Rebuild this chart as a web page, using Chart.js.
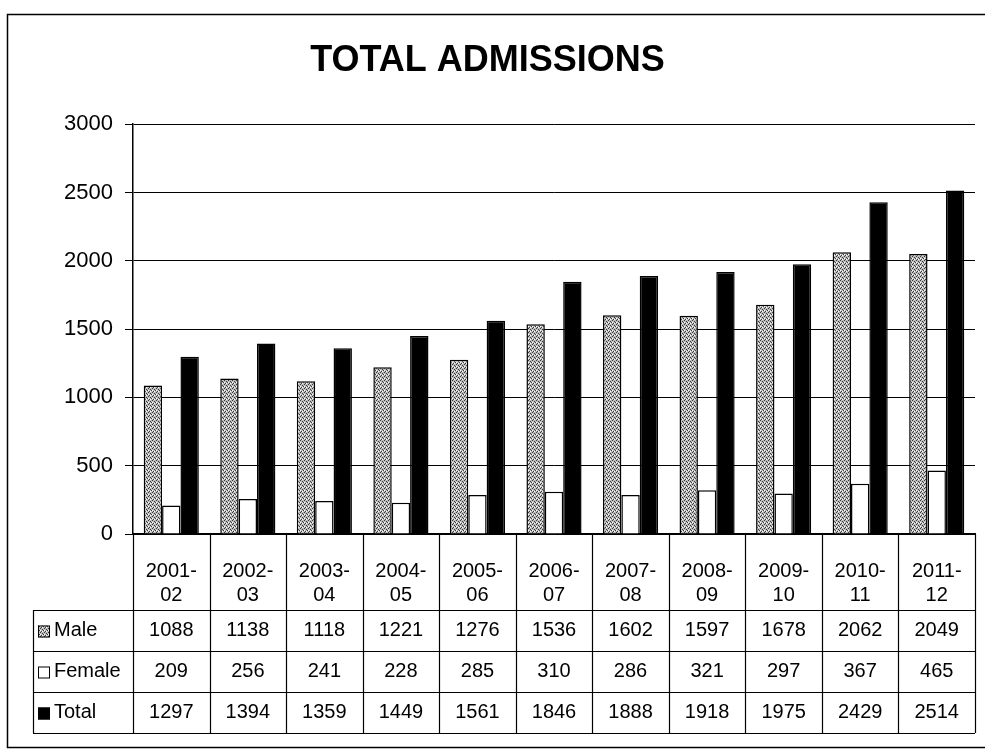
<!DOCTYPE html>
<html>
<head>
<meta charset="utf-8">
<title>Total Admissions</title>
<script src="https://cdn.jsdelivr.net/npm/chart.js@4.4.1/dist/chart.umd.min.js"></script>
<style>
  body { margin: 0; background: #fff; }
  canvas { display: block; }
</style>
</head>
<body>
<canvas id="myChartAdmisiones" width="985" height="754"></canvas>
<script>
// Datos del gráfico
const categories = ['2001-02', '2002-03', '2003-04', '2004-05', '2005-06', '2006-07',
                    '2007-08', '2008-09', '2009-10', '2010-11', '2011-12'];
const seriesNames = ['Male', 'Female', 'Total'];
const maleValues = [1088, 1138, 1118, 1221, 1276, 1536, 1602, 1597, 1678, 2062, 2049];
const femaleValues = [209, 256, 241, 228, 285, 310, 286, 321, 297, 367, 465];
const totalValues = [1297, 1394, 1359, 1449, 1561, 1846, 1888, 1918, 1975, 2429, 2514];
const yTicks = [0, 500, 1000, 1500, 2000, 2500, 3000];

const FONT = 'Arial, "Liberation Sans", sans-serif';
Chart.defaults.font.family = FONT;
Chart.defaults.color = '#000';

// Trama punteada gris para "Male"
function crearTrama() {
    const c = document.createElement('canvas');
    c.width = 4; c.height = 4;
    const g = c.getContext('2d');
    g.fillStyle = '#bdbdbd';
    g.fillRect(0, 0, 4, 4);
    g.fillStyle = '#3a3a3a';
    [[0, 0], [2, 1], [1, 3], [3, 2]].forEach(p => g.fillRect(p[0], p[1], 1, 1));
    g.fillStyle = '#ffffff';
    [[2, 3], [0, 2]].forEach(p => g.fillRect(p[0], p[1], 1, 1));
    return g.createPattern(c, 'repeat');
}

const ctx = document.getElementById('myChartAdmisiones').getContext('2d');
const maleFill = crearTrama();
const seriesFills = [maleFill, '#ffffff', '#000000'];
const seriesData = [maleValues, femaleValues, totalValues];

// Tabla de datos bajo el eje X, como en Excel
const tablaPlugin = {
    id: 'tablaDatos',
    afterDraw(chart) {
        const c = chart.ctx;
        const ca = chart.chartArea;
        const n = categories.length;
        const colW = (ca.right - ca.left) / n;
        const rowTop = 610, rowH = 41, legendLeft = 33;
        const tableBottom = rowTop + rowH * seriesNames.length;

        c.save();
        c.strokeStyle = '#000';
        c.lineWidth = 1.2;

        // líneas verticales de las columnas
        for (let i = 0; i <= n; i++) {
            const x = Math.round(ca.left + i * colW) + 0.5;
            c.beginPath();
            c.moveTo(x, ca.bottom);
            c.lineTo(x, tableBottom);
            c.stroke();
        }
        // líneas horizontales de las filas
        for (let k = 0; k <= seriesNames.length; k++) {
            const y = rowTop + k * rowH + 0.5;
            c.beginPath();
            c.moveTo(legendLeft, y);
            c.lineTo(ca.right, y);
            c.stroke();
        }
        c.beginPath();
        c.moveTo(legendLeft + 0.5, rowTop);
        c.lineTo(legendLeft + 0.5, tableBottom);
        c.stroke();

        c.font = '20px ' + FONT;
        c.fillStyle = '#000';
        c.textBaseline = 'middle';
        seriesNames.forEach((name, k) => {
            const yMid = rowTop + k * rowH + rowH / 2;
            // cuadro de leyenda
            c.fillStyle = seriesFills[k];
            c.fillRect(legendLeft + 5, yMid - 5, 12, 12);
            c.lineWidth = 1;
            c.strokeRect(legendLeft + 5.5, yMid - 4.5, 11, 11);
            c.fillStyle = '#000';
            c.textAlign = 'left';
            c.fillText(name, legendLeft + 21, yMid);
            c.textAlign = 'center';
            seriesData[k].forEach((v, i) => {
                c.fillText(String(v), ca.left + (i + 0.5) * colW, yMid);
            });
        });

        // marco exterior
        c.lineWidth = 1.5;
        c.strokeRect(7.5, 14.5, 990, 733);
        c.restore();
    }
};

const myChartAdmisiones = new Chart(ctx, {
    type: 'bar',
    data: {
        labels: categories,
        datasets: seriesNames.map((name, k) => ({
            label: name,
            data: seriesData[k],
            backgroundColor: seriesFills[k],
            borderColor: '#000',
            borderWidth: 1.5,
            categoryPercentage: 0.72,
            barPercentage: 1.0
        }))
    },
    options: {
        responsive: false,
        animation: false,
        layout: { padding: { left: 0, right: 10, top: 0, bottom: 144 } },
        plugins: {
            legend: { display: false },
            tooltip: { enabled: false },
            title: {
                display: true,
                text: 'TOTAL ADMISSIONS',
                color: '#000',
                font: { size: 36, weight: 'bold', family: FONT },
                padding: { top: 39, bottom: 42 }
            }
        },
        scales: {
            x: {
                grid: { display: false },
                border: { display: true, color: '#000', width: 1.5 },
                ticks: {
                    color: '#000',
                    font: { size: 20 },
                    padding: 17,
                    maxRotation: 0,
                    autoSkip: false,
                    callback: function (value) {
                        const parts = categories[value].split('-');
                        return [parts[0] + '-', parts[1]];
                    }
                },
                afterFit: s => { s.height = 76; }
            },
            y: {
                min: 0,
                max: 3000,
                afterBuildTicks: s => { s.ticks = yTicks.map(v => ({ value: v })); },
                grid: { color: '#000', lineWidth: 1, tickLength: 8, drawTicks: true },
                border: { display: true, color: '#000', width: 1.5 },
                ticks: {
                    color: '#000',
                    font: { size: 22 },
                    padding: 12,
                    callback: v => String(v)
                },
                afterFit: s => { s.width = 133; }
            }
        }
    },
    plugins: [tablaPlugin]
});
</script>
</body>
</html>
